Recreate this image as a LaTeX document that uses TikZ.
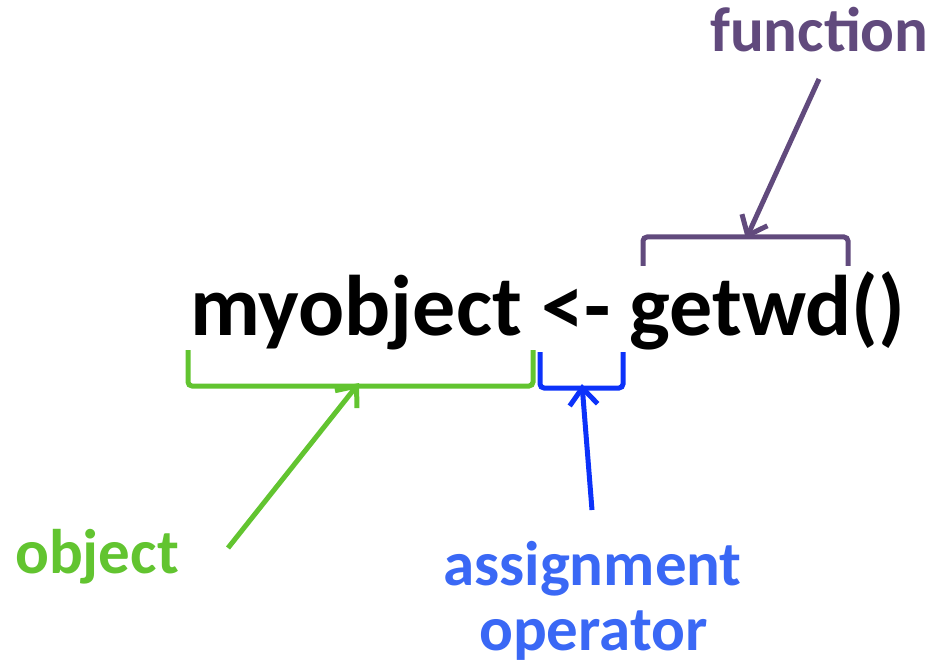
\documentclass[tikz,border=0pt]{standalone}
\usepackage{fontspec}
\setmainfont{Carlito}
\usetikzlibrary{arrows.meta}
\definecolor{objgreen}{RGB}{98,196,48}
\definecolor{funpurple}{RGB}{97,74,125}
\definecolor{opblue}{RGB}{12,50,250}
\definecolor{lblblue}{RGB}{58,104,245}
\tikzset{
  word/.style={inner sep=0pt, anchor=base west, font=\bfseries\fontsize{63}{70}\selectfont},
  brack/.style={line width=5pt, rounded corners=4pt},
  pointer/.style={line width=5pt, -{Straight Barb[length=17pt,width=28pt,line width=5pt]}}
}
\begin{document}
\begin{tikzpicture}[x=1pt,y=-1pt]
\useasboundingbox (0,0) rectangle (934,668);
% code line
\node[word, font=\bfseries\fontsize{86}{90}\selectfont] (code) at (190,335) {myobject <- getwd()};
% labels
\node[word, text=funpurple] (fun) at (710,52) {function};
\node[word, text=objgreen] (obj) at (15,573) {object};
\node[word, text=lblblue] (asg) at (443,585) {assignment};
\node[word, text=lblblue] (opr) at (479,650) {operator};
% brackets
\coordinate (fm) at (746,237); \coordinate (om) at (359,386); \coordinate (am) at (582,388);
\draw[brack, funpurple] (643,266) |- (fm) -| (848,266);
\draw[brack, objgreen] (188,350) |- (om) -| (533,350);
\draw[brack, opblue] (540,352) |- (am) -| (623,352);
% arrows
\coordinate (ft) at (819,79); \coordinate (ot) at (228,548); \coordinate (at) at (592,510);
\draw[pointer, funpurple] (ft) -- ([yshift=-2pt]fm);
\draw[pointer, objgreen] (ot) -- ([yshift=3pt]om);
\draw[pointer, opblue] (at) -- ([yshift=4pt]am);
\end{tikzpicture}
\end{document}
